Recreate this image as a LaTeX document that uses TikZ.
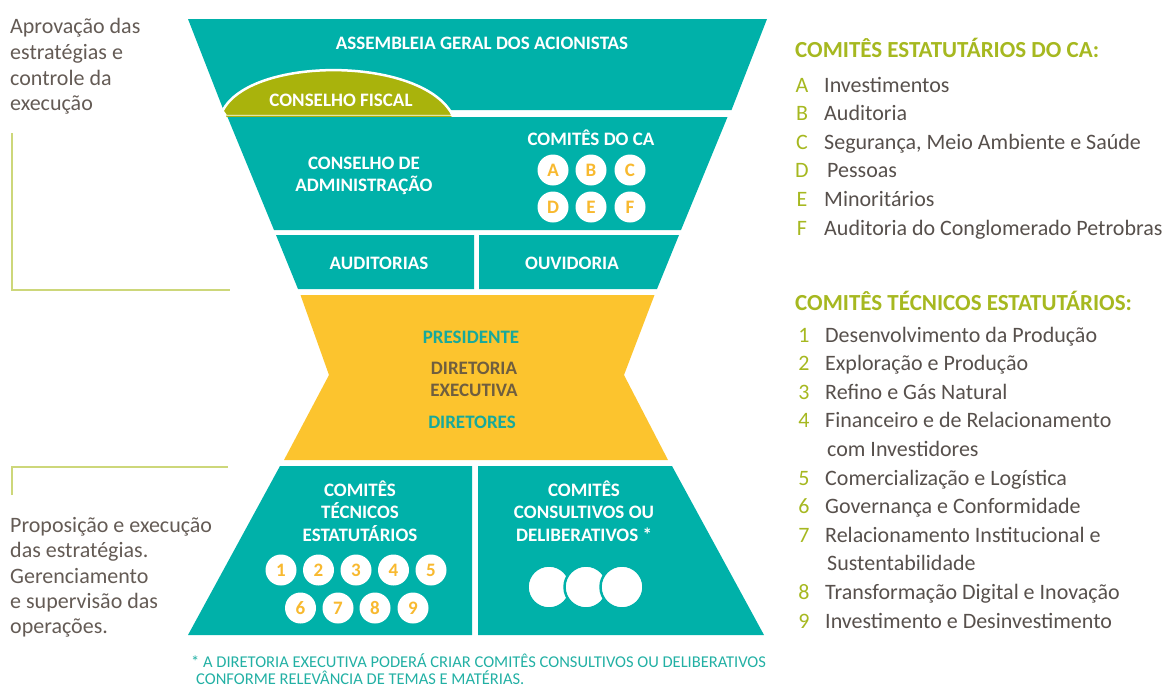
\documentclass[tikz,border=0pt]{standalone}
\usepackage{fontspec}
\setmainfont{Carlito}
\definecolor{teal}{HTML}{00B1A9}
\definecolor{olive}{HTML}{A9B30C}
\definecolor{yel}{HTML}{FCC42E}
\definecolor{head}{HTML}{A6B820}
\definecolor{body}{HTML}{57504C}
\definecolor{lgray}{HTML}{645B55}
\definecolor{guide}{HTML}{CDD77A}
\definecolor{numy}{HTML}{F8B92F}
\definecolor{pres}{HTML}{17A99B}
\definecolor{dirc}{HTML}{6F5E3F}
\definecolor{foot}{HTML}{22B0A4}
\newcommand\labfont{\fontsize{19}{22.5}\selectfont\bfseries}
\newcommand\bodyfont{\fontsize{22}{26}\selectfont}
\tikzset{
  lab/.style={text=white,font=\labfont,inner sep=0,align=center},
  circl/.style={circle,fill=white,minimum size=31pt,inner sep=0,text=numy,font=\fontsize{19}{19}\selectfont\bfseries},
  bigcirc/.style={circle,fill=white,draw=teal,line width=2.5pt,minimum size=43pt,inner sep=0},
  lefttxt/.style={anchor=base west,inner sep=0,text=lgray,font=\bodyfont},
  headtxt/.style={anchor=base west,inner sep=0,text=head,font=\fontsize{23}{26}\selectfont\bfseries},
  keytxt/.style={anchor=base,inner sep=0,text=head,font=\bodyfont},
  itemtxt/.style={anchor=base west,inner sep=0,text=body,font=\bodyfont},
  foottxt/.style={anchor=base west,inner sep=0,text=foot,font=\fontsize{16.5}{18}\selectfont},
  guideline/.style={draw=guide,line width=2pt}
}
\begin{document}
\begin{tikzpicture}[x=1pt,y=-1pt]
\useasboundingbox (0,0) rectangle (1174,686);
% --- hourglass shapes
\fill[teal] (188,19) -- (767,19) -- (731.5,110) -- (223.5,110) -- cycle;
\filldraw[fill=olive,draw=white,line width=2.5pt]
  (222.5,111) .. controls (250,56) and (420,56) .. (452,114) -- (452,116) -- (226,116) -- cycle;
\fill[white] (452,112) rectangle (760,115.5);
\fill[olive] (226,115.5) -- (450,115.5) -- (452,117) -- (226.5,117) -- cycle;
\fill[teal] (227.5,117) -- (727.5,117) -- (681,230) -- (274,230) -- cycle;
\fill[teal] (276,235) -- (474,235) -- (474,289) -- (298,289) -- cycle;
\fill[teal] (479,235) -- (679,235) -- (657,289) -- (479,289) -- cycle;
\fill[yel] (300.5,295) -- (654.5,295) -- (624,375) -- (668,460) -- (284,460) -- (329,375) -- cycle;
\fill[teal] (280,466) -- (472,466) -- (472,635) -- (188,635) -- cycle;
\fill[teal] (478,466) -- (672,466) -- (764,635) -- (478,635) -- cycle;
% --- labels in shapes
\node[lab] (ag) at (482,43) {ASSEMBLEIA GERAL DOS ACIONISTAS};
\node[lab] (cf) at (341,100) {CONSELHO FISCAL};
\node[lab] (ca) at (364,176) {CONSELHO DE\\ADMINISTRAÇÃO};
\node[lab] (cca) at (591,138) {COMITÊS DO CA};
\node[circl] (cA) at (553,170) {A};
\node[circl] (cB) at (591,170) {B};
\node[circl] (cC) at (630,170) {C};
\node[circl] (cD) at (553,207) {D};
\node[circl] (cE) at (591,207) {E};
\node[circl] (cF) at (630,207) {F};
\node[lab] (aud) at (379,263) {AUDITORIAS};
\node[lab] (ouv) at (572,263) {OUVIDORIA};
\node[lab,text=pres] (pr) at (471,337) {PRESIDENTE};
\node[lab,text=dirc] (de) at (474,379.5) {DIRETORIA\\EXECUTIVA};
\node[lab,text=pres] (dr) at (472,422) {DIRETORES};
\node[lab] (cte) at (360,511) {COMITÊS\\TÉCNICOS\\ESTATUTÁRIOS};
\node[lab] (ccd) at (584,511) {COMITÊS\\CONSULTIVOS OU\\DELIBERATIVOS *};
\foreach \n/\x/\y in {1/281/570,2/318.5/570,3/356/570,4/393.5/570,5/431/570,6/300.5/608,7/338/608,8/375/608,9/413/608}
  \node[circl] (n\n) at (\x,\y) {\n};
\node[bigcirc] (k1) at (549,587) {};
\node[bigcirc] (k2) at (586,587) {};
\node[bigcirc] (k3) at (622,587) {};
% --- footnote
\node[foottxt] (f1) at (191,667) {* A DIRETORIA EXECUTIVA PODERÁ CRIAR COMITÊS CONSULTIVOS OU DELIBERATIVOS};
\node[foottxt] (f2) at (196,684) {CONFORME RELEVÂNCIA DE TEMAS E MATÉRIAS.};
% --- left side
\node[lefttxt] (l1) at (10,33) {Aprovação das};
\node[lefttxt] (l2) at (10,59) {estratégias e};
\node[lefttxt] (l3) at (10,85) {controle da};
\node[lefttxt] (l4) at (10,110) {execução};
\draw[guideline] (12,133) -- (12,290) -- (230,290);
\draw[guideline] (12,495) -- (12,467) -- (228,467);
\node[lefttxt] (m1) at (10,532) {Proposição e execução};
\node[lefttxt] (m2) at (10,557) {das estratégias.};
\node[lefttxt] (m3) at (10,583) {Gerenciamento};
\node[lefttxt] (m4) at (10,608) {e supervisão das};
\node[lefttxt] (m5) at (10,633) {operações.};
% --- right lists
\node[headtxt] (h1) at (795,57) {COMITÊS ESTATUTÁRIOS DO CA:};
\foreach \k/\t/\xx/\i in {A/Investimentos/824/0,B/Auditoria/824/1,C/{Segurança, Meio Ambiente e Saúde}/824/2,D/Pessoas/827/3,E/Minoritários/824/4,F/Auditoria do Conglomerado Petrobras/824/5}{
  \node[keytxt] (k\k) at (802,92+28.6*\i) {\k};
  \node[itemtxt] (t\k) at (\xx,92+28.6*\i) {\t};
}
\node[headtxt] (h2) at (795,310) {COMITÊS TÉCNICOS ESTATUTÁRIOS:};
\foreach \k/\t/\i in {1/Desenvolvimento da Produção/0,2/Exploração e Produção/1,3/Refino e Gás Natural/2,4/Financeiro e de Relacionamento/3,5/Comercialização e Logística/5,6/Governança e Conformidade/6,7/Relacionamento Institucional e/7,8/Transformação Digital e Inovação/9,9/Investimento e Desinvestimento/10}{
  \node[keytxt] (q\k) at (804,342+28.6*\i) {\k};
  \node[itemtxt] (u\k) at (825,342+28.6*\i) {\t};
}
\node[itemtxt] (u4b) at (827,342+28.6*4) {com Investidores};
\node[itemtxt] (u7b) at (827,342+28.6*8) {Sustentabilidade};
\end{tikzpicture}
\end{document}
